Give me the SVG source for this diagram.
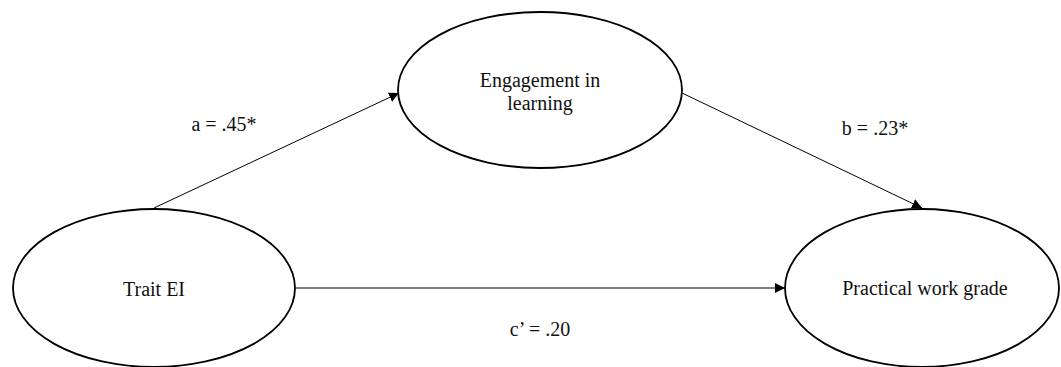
<svg xmlns="http://www.w3.org/2000/svg" width="1061" height="367" viewBox="0 0 1061 367">
<style>
.node{fill:#fff;stroke:#000;stroke-width:1.8}
.lbl{font-family:"Liberation Serif","Times New Roman",serif;font-size:20px;fill:#111;text-anchor:middle}
.conn{stroke:#000;stroke-width:1;fill:none;marker-end:url(#ah)}
</style>
<defs>
<marker id="ah" viewBox="0 0 10 10" refX="10" refY="5" markerWidth="10" markerHeight="10" markerUnits="userSpaceOnUse" orient="auto">
<path d="M0,0 L10,5 L0,10 Z" fill="#000"/>
</marker>
</defs>
<rect width="1061" height="367" fill="#fff"/>
<g id="connectors">
<line class="conn" x1="154" y1="208" x2="399" y2="93"/>
<line class="conn" x1="682" y1="93" x2="922" y2="208"/>
<line class="conn" x1="296" y1="288" x2="785" y2="288"/>
<text class="lbl" x="224" y="131">a = .45*</text>
<text class="lbl" x="875" y="135">b = .23*</text>
<text class="lbl" x="540" y="336">c’ = .20</text>
</g>
<g id="engagement">
<ellipse class="node" cx="540" cy="90" rx="142" ry="78"/>
<text class="lbl" x="540" y="87">Engagement in</text>
<text class="lbl" x="540" y="110">learning</text>
</g>
<g id="trait-ei">
<ellipse class="node" cx="154" cy="288" rx="141" ry="79"/>
<text class="lbl" x="154" y="296">Trait EI</text>
</g>
<g id="practical">
<ellipse class="node" cx="922" cy="288" rx="137" ry="79"/>
<text class="lbl" x="925" y="295">Practical work grade</text>
</g>
</svg>
